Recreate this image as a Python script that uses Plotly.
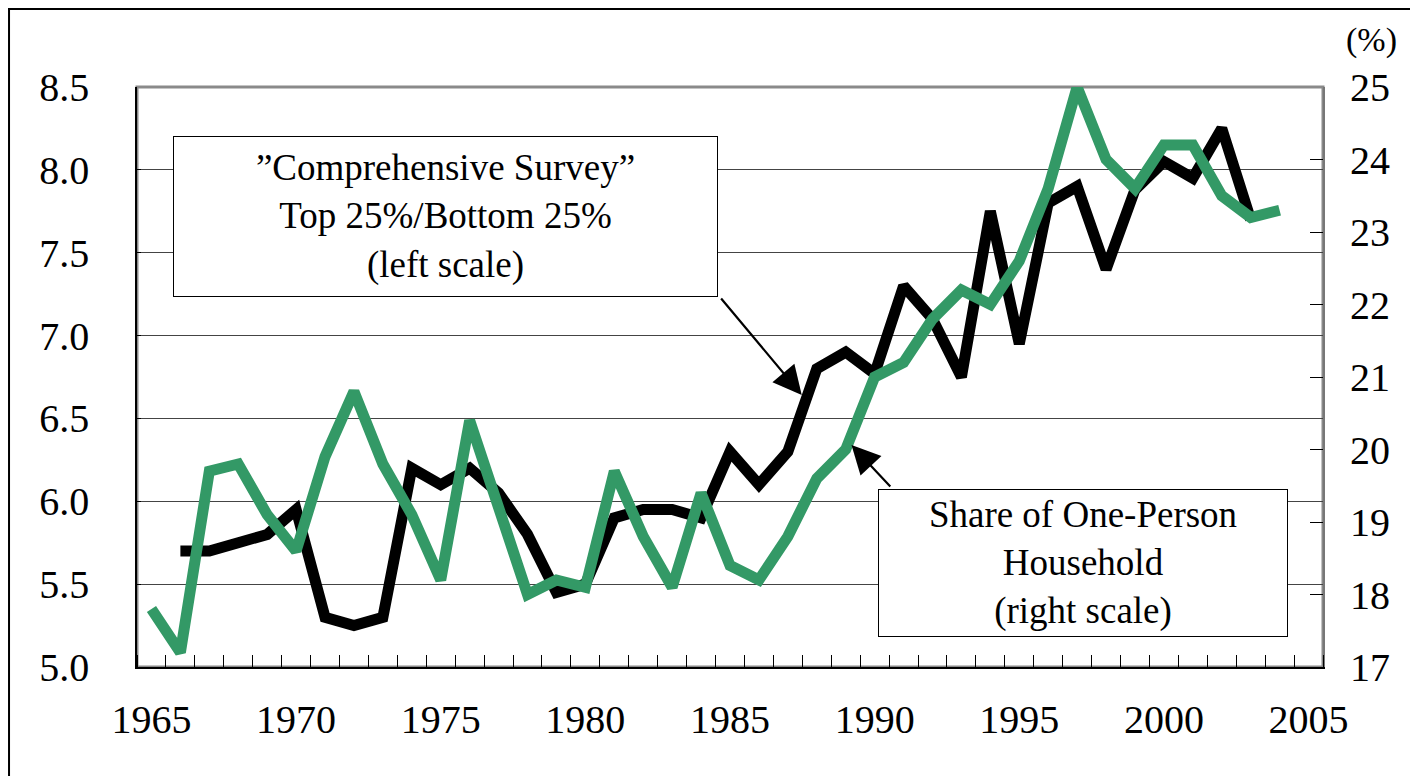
import plotly.graph_objects as go

# categories
years_black = list(range(1966, 2004))
years_green = list(range(1965, 2005))

# "Comprehensive Survey" Top 25% / Bottom 25% (left scale)
ratio_top_bottom = [5.70, 5.70, 5.75, 5.80, 5.95, 5.30, 5.25, 5.30, 6.20, 6.10,
                    6.20, 6.05, 5.80, 5.45, 5.50, 5.90, 5.95, 5.95, 5.90, 6.30,
                    6.10, 6.30, 6.80, 6.90, 6.77, 7.30, 7.10, 6.75, 7.75, 6.95,
                    7.80, 7.90, 7.40, 7.88, 8.05, 7.95, 8.25, 7.70]

# Share of one-person household, % (right scale)
one_person_share = [17.8, 17.2, 19.7, 19.8, 19.1, 18.6, 19.9, 20.8, 19.8, 19.1,
                    18.2, 20.4, 19.2, 18.0, 18.2, 18.1, 19.7, 18.8, 18.1, 19.4,
                    18.4, 18.2, 18.8, 19.6, 20.0, 21.0, 21.2, 21.8, 22.2, 22.0,
                    22.6, 23.6, 25.0, 24.0, 23.6, 24.2, 24.2, 23.5, 23.2, 23.3]

x_ticks = [1965, 1970, 1975, 1980, 1985, 1990, 1995, 2000, 2005]
left_ticks = [5.0, 5.5, 6.0, 6.5, 7.0, 7.5, 8.0, 8.5]
right_ticks = [17, 18, 19, 20, 21, 22, 23, 24, 25]

FONT = "Liberation Serif"
GREEN = "#339966"

fig = go.Figure()
fig.add_trace(go.Scatter(x=years_black, y=ratio_top_bottom, mode="lines",
                         line=dict(color="black", width=11), cliponaxis=False,
                         showlegend=False))
fig.add_trace(go.Scatter(x=years_green, y=one_person_share, mode="lines",
                         line=dict(color=GREEN, width=11), cliponaxis=False,
                         showlegend=False, yaxis="y2"))

# the page body adds an 8px offset, so margins are shifted by that amount
fig.update_layout(
    width=1418, height=776, autosize=False,
    margin=dict(l=129, r=103, t=79, b=117),
    paper_bgcolor="white", plot_bgcolor="white",
    font=dict(family=FONT, size=40, color="black"),
    xaxis=dict(range=[1964.5, 2005.5], tickvals=x_ticks, ticks="",
               showgrid=False, zeroline=False, showline=True,
               linecolor="black", linewidth=2, ticklabelstandoff=16,
               minor=dict(ticks="inside", tick0=0.5, dtick=1, ticklen=12,
                          tickcolor="black", tickwidth=1, showgrid=False)),
    yaxis=dict(range=[5.0, 8.5], tickvals=left_ticks, tickformat=".1f",
               showgrid=True, gridcolor="#444", gridwidth=1,
               zeroline=False, showline=True, linecolor="black", linewidth=1.5,
               ticks="inside", ticklen=4, tickcolor="black",
               ticklabelstandoff=38),
    yaxis2=dict(range=[17, 25], tickvals=right_ticks, overlaying="y",
                side="right", showgrid=False, zeroline=False,
                showline=True, linecolor="#777", linewidth=2,
                ticks="inside", ticklen=13, tickcolor="black",
                ticklabelstandoff=17),
)

# plot frame and outer chart border
fig.add_shape(type="rect", xref="paper", yref="paper", x0=0, x1=1, y0=0, y1=1,
              line=dict(color="#8a8a8a", width=3), layer="below")
fig.add_shape(type="rect", xref="paper", yref="paper",
              x0=-0.1079, x1=1.2, y0=-0.3, y1=1.1345,
              line=dict(color="black", width=2), layer="below")

# boxed labels
fig.add_annotation(x=1975.17, y=7.72, xref="x", yref="y", showarrow=False,
                   text="\u201dComprehensive Survey\u201d<br>Top 25%/Bottom 25%<br>(left scale)",
                   font=dict(family=FONT, size=37), align="center",
                   width=541, height=157, bgcolor="white",
                   bordercolor="black", borderwidth=1)
fig.add_annotation(x=1997.2, y=5.628, xref="x", yref="y", showarrow=False,
                   text="Share of One-Person<br>Household<br>(right scale)",
                   font=dict(family=FONT, size=37), align="center",
                   width=406, height=144, bgcolor="white",
                   bordercolor="black", borderwidth=1)

# arrows
fig.add_annotation(x=1987.48, y=6.642, ax=1984.65, ay=7.233,
                   xref="x", yref="y", axref="x", ayref="y", text="",
                   showarrow=True, arrowhead=2, arrowsize=2.6, arrowwidth=2.2,
                   arrowcolor="black")
fig.add_annotation(x=1989.2, y=6.34, ax=1990.59, ay=6.08,
                   xref="x", yref="y", axref="x", ayref="y", text="",
                   showarrow=True, arrowhead=2, arrowsize=2.6, arrowwidth=2.2,
                   arrowcolor="black")

fig.add_annotation(x=1.041, y=1.081, xref="paper", yref="paper", showarrow=False,
                   xanchor="center", yanchor="middle",
                   text="(%)", font=dict(family=FONT, size=34))

fig.write_html("out.html")
